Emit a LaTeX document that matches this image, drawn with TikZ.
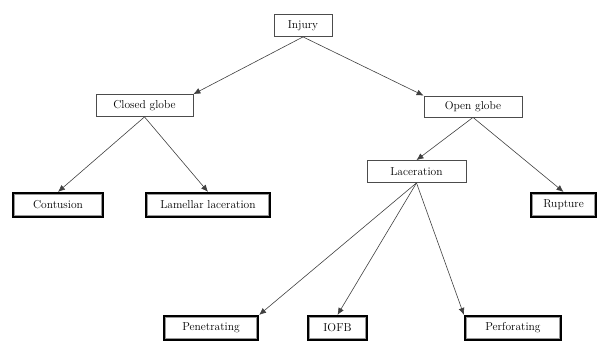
\documentclass[tikz,border=0pt]{standalone}
\usetikzlibrary{arrows.meta}

\tikzset{
  box/.style={draw=black!70, line width=.8pt, fill=white, inner sep=0pt,
    minimum height=22pt, font=\fontsize{11.5}{13}\selectfont},
  leafbox/.style={box, draw=black, line width=2.2pt, minimum height=24pt},
  branch/.style={black!75, line width=.6pt, -{Latex[length=7pt,width=6pt]}}
}

\begin{document}
\begin{tikzpicture}[x=1pt,y=-1pt]
  \useasboundingbox (0,0) rectangle (612,341);

  \node[box, minimum width=58pt] (injury) at (303,25.5) {Injury};

  \node[box, minimum width=97pt] (closed) at (144.5,105.5) {Closed globe};
  \node[box, minimum width=98pt, minimum height=21pt] (open) at (473,106.5) {Open globe};

  \node[leafbox, minimum width=90pt] (contusion) at (58,205) {Contusion};
  \node[leafbox, minimum width=124pt] (lamellar) at (208,205) {Lamellar laceration};
  \node[box, minimum width=99pt] (laceration) at (416.5,171.5) {Laceration};
  \node[leafbox, minimum width=65pt] (rupture) at (563.5,205) {Rupture};

  \node[leafbox, minimum width=94pt] (penetrating) at (211,328) {Penetrating};
  \node[leafbox, minimum width=59pt] (iofb) at (337.5,328) {IOFB};
  \node[leafbox, minimum width=96pt] (perforating) at (513,328) {Perforating};

  % inner grey frame of the end boxes
  \foreach \n in {contusion,lamellar,rupture,penetrating,iofb,perforating}
    \draw[gray!80, line width=.8pt] ([shift={(2.6pt,-2.6pt)}]\n.north west)
      rectangle ([shift={(-2.6pt,2.6pt)}]\n.south east);

  \draw[branch] (injury.south) -- (closed.north east);
  \draw[branch] (injury.south) -- (open.north west);

  \draw[branch] (closed.south) -- (contusion.north);
  \draw[branch] (closed.south) -- (lamellar.north);

  \draw[branch] (open.south) -- (laceration.north);
  \draw[branch] (open.south) -- (rupture.north);

  \draw[branch] (laceration.south) -- (penetrating.north east);
  \draw[branch] (laceration.south) -- (iofb.north);
  \draw[branch] (laceration.south) -- (perforating.north west);
\end{tikzpicture}
\end{document}
